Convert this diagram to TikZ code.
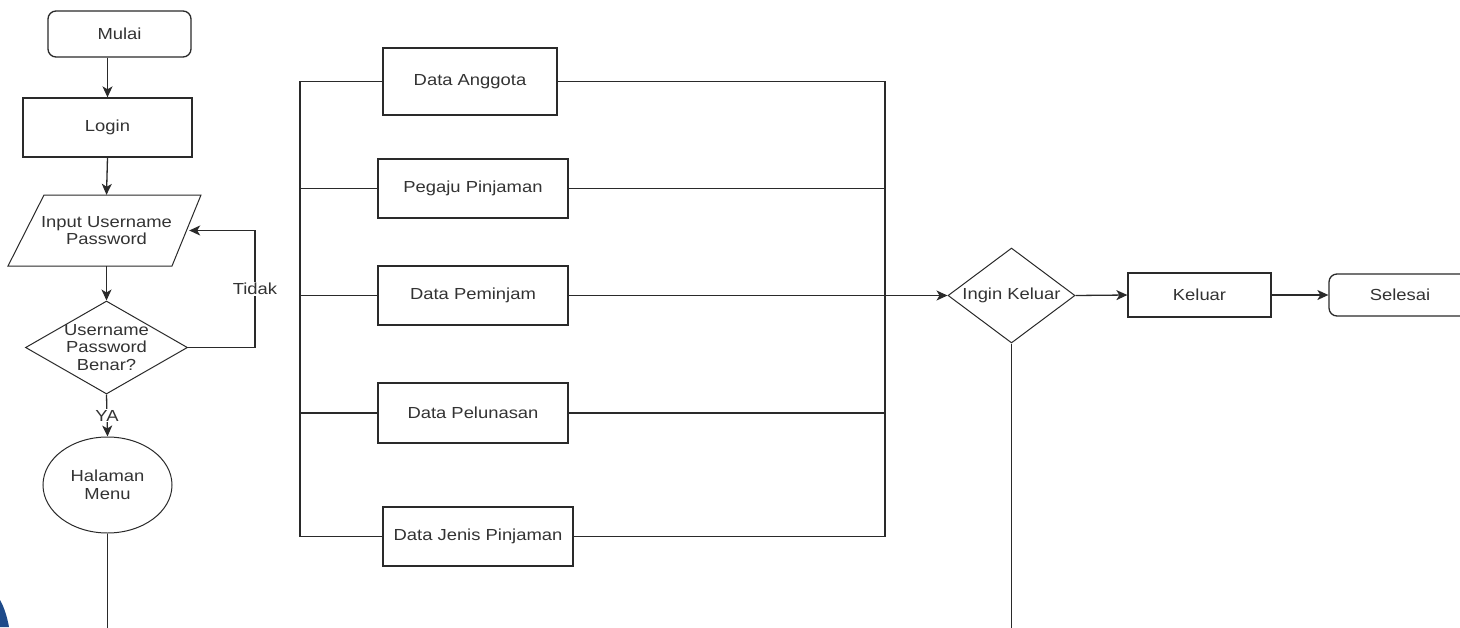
\documentclass[tikz,border=0pt]{standalone}
\usepackage{fontspec}
\setmainfont{Liberation Sans}[FakeStretch=1.15]
\usetikzlibrary{shapes.geometric,arrows.meta,calc}
\definecolor{ln}{HTML}{2A2A2A}
\definecolor{tx}{HTML}{333333}
\definecolor{logoblue}{HTML}{1E4A8A}
\begin{document}
\begin{tikzpicture}[x=1pt,y=-1pt,
  every node/.style={font=\fontsize{16}{17.5}\selectfont, text=tx},
  box/.style={draw=ln, line width=1.3pt, rectangle, inner sep=0pt, align=center},
  term/.style={box, rounded corners=8pt},
  dec/.style={draw=ln, line width=1pt, diamond, inner sep=0pt},
  conn/.style={draw=ln, line width=1.3pt},
  arr/.style={conn, -{Stealth[length=11pt,width=10pt,inset=3pt]}},
  lbl/.style={fill=white, inner sep=1pt}
]
\useasboundingbox (0,0) rectangle (1460,627);
\fill[white] (0,0) rectangle (1460,627);

% left column
\node[term, minimum width=143pt, minimum height=46pt] (mulai) at (119.5,34) {Mulai};
\node[box, minimum width=169pt, minimum height=59pt] (login) at (107.5,127.5) {Login};
\draw[ln, line width=1pt] (44,195) -- (201,195) -- (172,266) -- (8,266) -- cycle;
\node[inner sep=0pt, minimum width=165pt, minimum height=71pt, align=center] (input) at (106.5,230.5) {Input Username\\Password};
\node[dec, minimum width=162pt, minimum height=93pt,
  label={[align=center, font=\fontsize{16}{17.5}\selectfont, text=tx]center:Username\\Password\\Benar?}] (cek) at (106.5,347.5) {};
\node[draw=ln, line width=1pt, ellipse, minimum width=129pt, minimum height=96pt, inner sep=0pt, align=center] (menu) at (107.5,485) {Halaman\\Menu};
\coordinate (menuend) at (107.5,640);

\draw[arr] (mulai.south -| login.north) -- (login.north);
\draw[arr] (login.south) -- (input.north);
\draw[arr] (input.south) -- (cek.north);
\draw[arr] (cek.east) -- ++(67,0) |- (input.east) node[lbl, pos=0.25] (tidak) {Tidak};
\draw[arr] (cek.south) -- (menu.north) node[lbl, midway] (ya) {YA};
\draw[conn] (menu.south) -- (menuend);

% menu boxes
\node[box, minimum width=174pt, minimum height=67pt] (anggota) at (470,81.5) {Data Anggota};
\node[box, minimum width=190pt, minimum height=59pt] (pegaju) at (473,188.5) {Pegaju Pinjaman};
\node[box, minimum width=190pt, minimum height=59pt] (peminjam) at (473,295.5) {Data Peminjam};
\node[box, minimum width=190pt, minimum height=60pt] (pelunasan) at (473,413) {Data Pelunasan};
\node[box, minimum width=190pt, minimum height=59pt] (jenis) at (478,536.5) {Data Jenis Pinjaman};

\coordinate (blt) at (300,81.5);
\coordinate (blb) at (300,536.5);
\coordinate (brt) at (885,81.5);
\coordinate (brb) at (885,536.5);

\draw[conn] (anggota.west) -- (blt) -- (blb) -- (jenis.west);
\draw[conn] (anggota.east) -- (brt) -- (brb) -- (jenis.east);
\draw[conn] (pegaju.west) -- (pegaju.west -| blt);
\draw[conn] (peminjam.west) -- (peminjam.west -| blt);
\draw[conn] (pelunasan.west) -- (pelunasan.west -| blt);
\draw[conn] (pegaju.east) -- (pegaju.east -| brt);
\draw[conn] (pelunasan.east) -- (pelunasan.east -| brt);

% right part
\node[dec, minimum width=127pt, minimum height=95pt,
  label={[font=\fontsize{16}{17.5}\selectfont, text=tx]center:Ingin Keluar}] (keluarq) at (1011.5,295.5) {};
\node[box, minimum width=143pt, minimum height=44pt] (keluar) at (1199.5,295) {Keluar};
\node[term, minimum width=142pt, minimum height=42pt] (selesai) at (1400,295) {Selesai};
\coordinate (qend) at (1011.5,640);

\draw[arr] (peminjam.east) -- (keluarq.west);
\draw[arr] (keluarq.east) -- (keluar.west);
\draw[arr] (keluar.east) -- (selesai.west);
\draw[conn] (keluarq.south) -- (qend);

% logo fragment bottom-left
\fill[logoblue] (0,600) .. controls (4,607) and (7,616) .. (9,627) -- (0,627) -- cycle;
\end{tikzpicture}
\end{document}
